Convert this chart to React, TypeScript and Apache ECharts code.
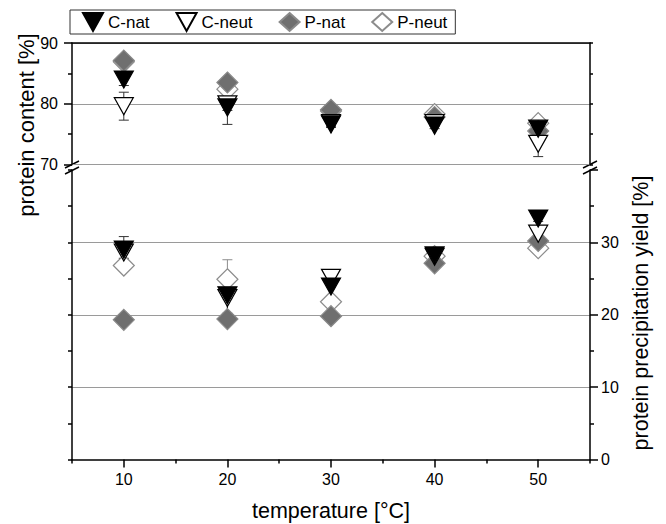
import React, { useEffect, useRef } from "react";
import * as echarts from "echarts";

const temperatures = [10, 20, 30, 40, 50];

// protein content [%] (upper panel)
const contentCNat = [84.0, 79.4, 76.6, 76.4, 75.9];
const contentCNatErr = [1.0, 2.8, 0.5, 0.5, 0.5];
const contentCNeut = [79.6, 79.9, 76.8, 76.8, 73.4];
const contentCNeutErr = [2.3, 1.0, 0.5, 0.5, 2.1];
const contentPNat = [87.1, 83.5, 79.0, 77.8, 75.5];
const contentPNatErr = [0.4, 0.5, 0.4, 0.4, 0.4];
const contentPNeut = [86.9, 82.4, 78.8, 78.3, 76.8];
const contentPNeutErr = [0.4, 0.5, 0.4, 0.4, 0.4];

// protein precipitation yield [%] (lower panel)
const yieldCNat = [29.0, 22.7, 23.9, 28.2, 33.3];
const yieldCNatErr = [1.8, 2.5, 1.4, 0.4, 0.4];
const yieldCNeut = [28.6, 22.3, 25.1, 28.0, 31.2];
const yieldCNeutErr = [0.8, 2.4, 0.6, 0.4, 0.4];
const yieldPNat = [19.3, 19.4, 19.8, 27.1, 30.2];
const yieldPNatErr = [0.3, 0.3, 0.3, 0.3, 0.3];
const yieldPNeut = [26.8, 24.9, 21.8, 28.1, 29.2];
const yieldPNeutErr = [0.7, 2.7, 0.8, 0.4, 0.4];

const xMajorTicks = [10, 20, 30, 40, 50];
const xMinorTicks = [5, 15, 25, 35, 45, 55];

const FONT = "Liberation Sans, Arial, sans-serif";
const DOWN_TRI = "path://M0,0L20,0L10,18Z";

const seriesDefs = [
  { name: "P-neut", up: contentPNeut, upErr: contentPNeutErr, low: yieldPNeut, lowErr: yieldPNeutErr, symbol: "diamond", size: [21, 21], fill: "#ffffff", stroke: "#8c8c8c", err: "#8c8c8c", z: 3 },
  { name: "P-nat", up: contentPNat, upErr: contentPNatErr, low: yieldPNat, lowErr: yieldPNatErr, symbol: "diamond", size: [21, 21], fill: "#6f6f6f", stroke: "#8a8a8a", err: "#6f6f6f", z: 4 },
  { name: "C-neut", up: contentCNeut, upErr: contentCNeutErr, low: yieldCNeut, lowErr: yieldCNeutErr, symbol: DOWN_TRI, size: [19, 17], fill: "#ffffff", stroke: "#000000", err: "#333333", z: 5 },
  { name: "C-nat", up: contentCNat, upErr: contentCNatErr, low: yieldCNat, lowErr: yieldCNatErr, symbol: DOWN_TRI, size: [19, 17], fill: "#000000", stroke: "#000000", err: "#333333", z: 6 },
];

function errorSeries(values: number[], errs: number[], color: string, xi: number, yi: number) {
  return {
    type: "custom",
    xAxisIndex: xi,
    yAxisIndex: yi,
    z: 2,
    silent: true,
    data: temperatures.map((t, i) => [t, values[i], errs[i]]),
    encode: { x: 0, y: 1 },
    renderItem: (params: any, api: any) => {
      const x = api.value(0);
      const y = api.value(1);
      const e = api.value(2);
      const top = api.coord([x, y + e]);
      const bot = api.coord([x, y - e]);
      const w = 5;
      const style = { stroke: color, lineWidth: 1 };
      return {
        type: "group",
        children: [
          { type: "line", shape: { x1: top[0], y1: top[1], x2: bot[0], y2: bot[1] }, style },
          { type: "line", shape: { x1: top[0] - w, y1: top[1], x2: top[0] + w, y2: top[1] }, style },
          { type: "line", shape: { x1: bot[0] - w, y1: bot[1], x2: bot[0] + w, y2: bot[1] }, style },
        ],
      };
    },
  };
}

export default function App() {
  const ref = useRef<HTMLDivElement>(null);
  useEffect(() => {
    document.body.style.margin = "0";
    const chart = echarts.init(ref.current!, null, { renderer: "svg" });
    const axisLine = { show: true, lineStyle: { color: "#000", width: 1.5 } };
    const grid = [
      { left: 72, right: 76, top: 43, height: 121.5 },
      { left: 72, right: 76, top: 170, height: 289.5 },
    ];
    const series: any[] = [];
    seriesDefs.forEach((d) => {
      series.push(errorSeries(d.up, d.upErr, d.err, 0, 0));
      series.push(errorSeries(d.low, d.lowErr, d.err, 1, 2));
    });
    seriesDefs.forEach((d) => {
      const common = {
        type: "scatter",
        name: d.name,
        symbol: d.symbol,
        symbolSize: d.size,
        z: d.z,
        itemStyle: { color: d.fill, borderColor: d.stroke, borderWidth: 1.2, opacity: 1 },
      };
      series.push({ ...common, xAxisIndex: 0, yAxisIndex: 0, data: temperatures.map((t, i) => [t, d.up[i]]) });
      series.push({ ...common, xAxisIndex: 1, yAxisIndex: 2, data: temperatures.map((t, i) => [t, d.low[i]]) });
    });
    const gridLine = { show: true, lineStyle: { color: "#9a9a9a", width: 1 } };
    const option: any = {
      animation: false,
      backgroundColor: "#ffffff",
      textStyle: { fontFamily: FONT },
      legend: {
        data: ["C-nat", "C-neut", "P-nat", "P-neut"],
        left: 70,
        top: 10,
        padding: [2, 8, 2, 12],
        itemGap: 26,
        itemWidth: 20,
        itemHeight: 18,
        borderColor: "#333",
        borderWidth: 1,
        textStyle: { fontSize: 17, color: "#000", fontFamily: FONT, lineHeight: 19 },
      },
      grid,
      xAxis: [
        { gridIndex: 0, type: "value", min: 5, max: 55, position: "top", axisLine, axisTick: { show: false }, axisLabel: { show: false }, splitLine: { show: false } },
        {
          gridIndex: 1, type: "value", min: 5, max: 55, position: "bottom", axisLine,
          axisTick: { show: true, customValues: xMajorTicks, length: 8, lineStyle: { color: "#000", width: 1.5 } },
          axisLabel: { show: true, customValues: xMajorTicks, fontSize: 16, color: "#000", margin: 12, fontFamily: FONT },
          splitLine: { show: false },
        },
        {
          gridIndex: 1, type: "value", min: 5, max: 55, position: "bottom", axisLine: { show: false },
          axisTick: { show: true, customValues: xMinorTicks, length: 4, lineStyle: { color: "#000", width: 1.5 } },
          axisLabel: { show: false }, splitLine: { show: false },
        },
      ],
      yAxis: [
        {
          gridIndex: 0, type: "value", min: 70, max: 90, interval: 10, position: "left", axisLine,
          axisTick: { show: true, length: 8, lineStyle: { color: "#000", width: 1.5 } },
          minorTick: { show: true, splitNumber: 2, length: 4, lineStyle: { color: "#000", width: 1.5 } },
          axisLabel: { fontSize: 16, color: "#000", margin: 14, fontFamily: FONT },
          splitLine: gridLine,
        },
        {
          gridIndex: 0, type: "value", min: 70, max: 90, interval: 10, position: "right", axisLine,
          axisTick: { show: true, length: 3, lineStyle: { color: "#000", width: 1.5 } },
          minorTick: { show: true, splitNumber: 2, length: 3, lineStyle: { color: "#000", width: 1.5 } },
          axisLabel: { show: false }, splitLine: { show: false },
        },
        {
          gridIndex: 1, type: "value", min: 0, max: 40, interval: 10, position: "left", axisLine,
          axisTick: { show: true, length: 4, lineStyle: { color: "#000", width: 1.5 } },
          minorTick: { show: true, splitNumber: 2, length: 4, lineStyle: { color: "#000", width: 1.5 } },
          axisLabel: { show: false }, splitLine: { show: false },
        },
        {
          gridIndex: 1, type: "value", min: 0, max: 40, interval: 10, position: "right", axisLine,
          axisTick: { show: true, length: 8, lineStyle: { color: "#000", width: 1.5 } },
          minorTick: { show: true, splitNumber: 2, length: 4, lineStyle: { color: "#000", width: 1.5 } },
          axisLabel: { fontSize: 16, color: "#000", margin: 11, fontFamily: FONT, showMaxLabel: false },
          splitLine: { ...gridLine, showMinLine: false, showMaxLine: false },
        },
      ],
      graphic: [
        { type: "line", shape: { x1: 65, y1: 168, x2: 79, y2: 161 }, style: { stroke: "#000", lineWidth: 1.5 } },
        { type: "line", shape: { x1: 65, y1: 174, x2: 79, y2: 167 }, style: { stroke: "#000", lineWidth: 1.5 } },
        { type: "line", shape: { x1: 583, y1: 168, x2: 597, y2: 161 }, style: { stroke: "#000", lineWidth: 1.5 } },
        { type: "line", shape: { x1: 583, y1: 174, x2: 597, y2: 167 }, style: { stroke: "#000", lineWidth: 1.5 } },
        { type: "text", x: 26, y: 125, rotation: Math.PI / 2, style: { text: "protein content [%]", fontSize: 22, fill: "#000", fontFamily: FONT, align: "center", verticalAlign: "middle" } },
        { type: "text", x: 641, y: 313, rotation: Math.PI / 2, style: { text: "protein precipitation yield [%]", fontSize: 21.5, fill: "#000", fontFamily: FONT, align: "center", verticalAlign: "middle" } },
        { type: "text", x: 331, y: 511, style: { text: "temperature [°C]", fontSize: 21.5, fill: "#000", fontFamily: FONT, align: "center", verticalAlign: "middle" } },
      ],
      series,
    };
    chart.setOption(option);
    return () => chart.dispose();
  }, []);
  return <div ref={ref} style={{ width: 666, height: 524 }} />;
}
